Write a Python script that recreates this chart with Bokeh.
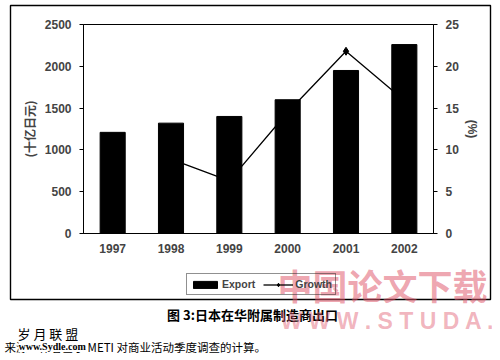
from bokeh.plotting import figure
from bokeh.models import (Range1d, LinearAxis, FactorRange, Legend, LegendItem,
                          Label, FixedTicker)
from bokeh.embed import file_html
from bokeh.resources import INLINE

# ---------------- data ----------------
years = ["1997", "1998", "1999", "2000", "2001", "2002"]
export = [1210, 1320, 1400, 1600, 1950, 2260]          # 十亿日元
growth_years = ["1998", "1999", "2000", "2001", "2002"]
growth = [8.9, 6.3, 14.5, 21.8, 15.9]                  # %
left_ticks = [0, 500, 1000, 1500, 2000, 2500]
right_ticks = [0, 5, 10, 15, 20, 25]

caption = "图 3:日本在华附属制造商出口"
source_note = "来源：作者基于 METI 对商业活动季度调查的计算。"
stamp = "岁 月 联 盟"
stamp2 = "www.Sydle.com"
wm1 = "中国论文下载"
wm2 = "W W W . S T U D A ."

LAT = "Liberation Sans"
CJK = "Noto Sans CJK SC"
W, H = 492, 354
NAN = float("nan")

# ---------------- chart figure ----------------
p = figure(x_range=FactorRange(*years), y_range=Range1d(0, 2500),
           width=W, height=H, output_backend="svg", toolbar_location=None,
           min_border_left=83, min_border_right=W - 433, min_border_top=24,
           min_border_bottom=H - 233)
p.extra_y_ranges = {"g": Range1d(0, 25)}

p.background_fill_color = "white"
p.border_fill_color = "white"
p.outline_line_color = "black"
p.outline_line_width = 1
p.xgrid.grid_line_color = None
p.ygrid.grid_line_color = None

# growth line (behind the bars)
ln = p.line(x=growth_years, y=growth, y_range_name="g", line_color="black", line_width=1.3)
pts = p.scatter(x=growth_years, y=growth, y_range_name="g", marker="diamond",
                size=8, fill_color="black", line_color="black")
bars = p.vbar(x=years, top=export, width=0.43, fill_color="black", line_color="black")

ya = p.yaxis[0]
ya.ticker = FixedTicker(ticks=left_ticks)
ya.axis_label = "(十亿日元)"
ya.axis_label_text_font = CJK
ya.axis_label_text_font_style = "bold"
ya.axis_label_text_font_size = "12px"
ya.axis_label_standoff = 4
ya.major_label_text_font = LAT
ya.major_label_text_font_style = "bold"
ya.major_label_text_font_size = "12px"
ya.major_label_standoff = 8
ya.major_tick_out = 4
ya.major_tick_in = 0
ya.minor_tick_out = 0
ya.minor_tick_in = 0
ya.axis_line_color = "black"

ra = LinearAxis(y_range_name="g", ticker=FixedTicker(ticks=right_ticks), axis_label="(%)")
ra.axis_label_text_font = LAT
ra.axis_label_text_font_style = "bold"
ra.axis_label_text_font_size = "12px"
ra.axis_label_standoff = 3
ra.major_label_text_font = LAT
ra.major_label_text_font_style = "bold"
ra.major_label_text_font_size = "12px"
ra.major_label_standoff = 8
ra.major_tick_out = 4
ra.major_tick_in = 0
ra.minor_tick_out = 0
ra.minor_tick_in = 0
p.add_layout(ra, "right")

xa = p.xaxis[0]
xa.major_label_text_font = LAT
xa.major_label_text_font_style = "bold"
xa.major_label_text_font_size = "12px"
xa.major_label_standoff = 10
xa.major_tick_out = 0
xa.major_tick_in = 0
xa.axis_line_color = "black"

# ---------------- overlay figure (frame = whole canvas), drawn on top ----------------
q = figure(x_range=Range1d(0, W), y_range=Range1d(H, 0), width=W, height=H,
           output_backend="svg", toolbar_location=None,
           x_axis_type=None, y_axis_type=None, min_border=0,
           styles={"margin-top": "-%dpx" % H})
q.background_fill_color = None
q.border_fill_color = None
q.outline_line_color = None

# outer frame of the figure panel
q.quad(left=[10], right=[490], top=[5], bottom=[299], fill_color=None,
       line_color="black", line_width=1.4)

# legend glyph carriers (no visible marks; styles match the chart's renderers)
lg_bar = q.vbar(x=[NAN], top=[NAN], width=1, fill_color="black", line_color="black")
lg_ln = q.line(x=[NAN], y=[NAN], line_color="black", line_width=1.3)
lg_pt = q.scatter(x=[NAN], y=[NAN], marker="diamond", size=8,
                  fill_color="black", line_color="black")
legend = Legend(items=[LegendItem(label="Export", renderers=[lg_bar]),
                       LegendItem(label="Growth", renderers=[lg_ln, lg_pt])],
                orientation="horizontal", location=(186, H - 295))
legend.border_line_color = "#222222"
legend.border_line_width = 1
legend.background_fill_alpha = 0
legend.padding = 3
legend.spacing = 8
legend.margin = 0
legend.glyph_width = 30
legend.glyph_height = 9
legend.label_standoff = 2
legend.label_height = 14
legend.label_text_font = LAT
legend.label_text_font_style = "bold"
legend.label_text_font_size = "10.5px"
q.add_layout(legend)

# watermark (on top of everything)
q.add_layout(Label(x=277, y=284, text=wm1, text_font=CJK, text_font_style="bold",
                   text_font_size="35px", text_color="#e05a6e", text_alpha=0.55,
                   text_baseline="middle", level="overlay"))
q.add_layout(Label(x=280, y=320, text=wm2, text_font=LAT, text_font_style="bold",
                   text_font_size="23px", text_color="#e05a6e", text_alpha=0.45,
                   text_baseline="middle", level="overlay"))

# caption & notes
q.add_layout(Label(x=252, y=314, text=caption, text_font=CJK, text_font_style="bold",
                   text_font_size="13px", text_color="black", text_align="center",
                   text_baseline="middle"))
q.add_layout(Label(x=17, y=333, text=stamp, text_font=CJK, text_font_size="13px",
                   text_color="black", text_baseline="middle"))
q.add_layout(Label(x=4, y=346, text=source_note, text_font=CJK, text_font_size="11.5px",
                   text_color="black", text_baseline="middle"))
q.add_layout(Label(x=18, y=346, text=stamp2, text_font="Liberation Sans Narrow",
                   text_font_style="bold", text_font_size="10px", text_color="black",
                   text_baseline="middle", background_fill_color="white"))

open("out.html", "w").write(file_html([p, q], INLINE))
